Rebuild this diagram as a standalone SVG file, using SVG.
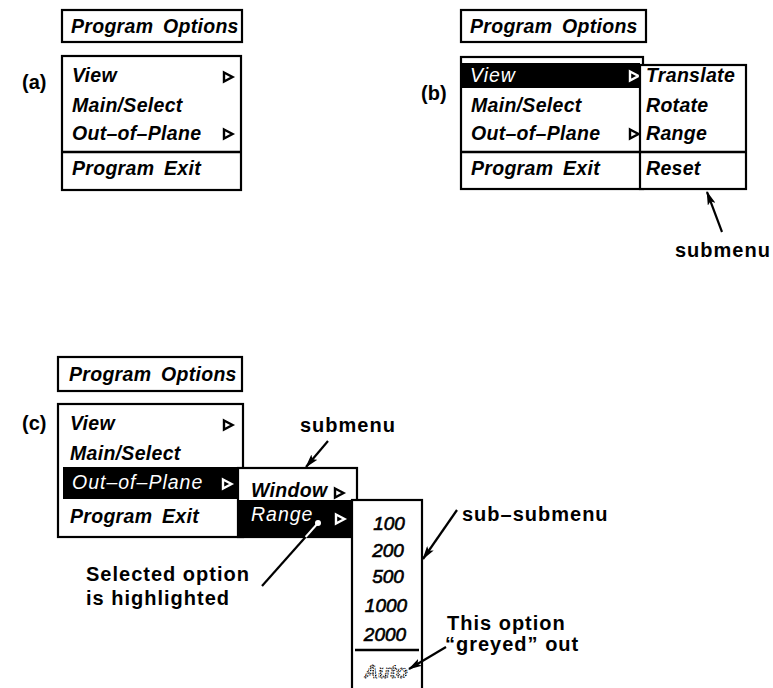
<svg xmlns="http://www.w3.org/2000/svg" width="773" height="688" viewBox="0 0 773 688">
<style>
.bg{fill:#fff}
.box{fill:#fff;stroke:#000;stroke-width:2.2}
.blk{fill:#000;stroke:none}
.mi{font-family:"Liberation Sans",Arial,sans-serif;font-size:19.5px;font-style:italic;font-weight:bold;letter-spacing:0.3px;word-spacing:4px;fill:#000}
.hi{font-weight:normal;fill:#fff;letter-spacing:1px}
.num{font-family:"Liberation Sans",Arial,sans-serif;font-size:19px;font-style:italic;font-weight:normal;fill:#000;stroke:#000;stroke-width:0.6;text-anchor:middle}
.grey{fill:url(#dots);stroke:#000;stroke-width:0.9;stroke-dasharray:1.2 1.8;font-weight:bold}
.lab{font-family:"Liberation Sans",Arial,sans-serif;font-size:20px;font-weight:bold;letter-spacing:1px;fill:#000}
.pl{letter-spacing:0}
.tri{fill:none;stroke:#000;stroke-width:2.4;stroke-linejoin:miter}
.triw{stroke:#fff}
.sep{stroke:#000;stroke-width:2.5}
.lead{stroke:#000;stroke-width:2.2;fill:none}
.leadw{stroke:#fff;stroke-width:2}
</style>
<defs>
<marker id="ah" markerWidth="14" markerHeight="8" refX="13" refY="4" orient="auto" markerUnits="userSpaceOnUse">
<path d="M0,0 L14,4 L0,8 L3,4 Z" fill="#000"/>
</marker>
<pattern id="dots" width="2.5" height="2.5" patternUnits="userSpaceOnUse">
<rect width="1.4" height="1.4" fill="#000"/>
</pattern>
<path id="tri" d="M0,-4.5 L8.5,0 L0,4.5 Z"/>
</defs>
<rect class="bg" x="0" y="0" width="773" height="688"/>

<!-- Panel (a) -->
<text class="lab pl" x="22" y="89">(a)</text>
<g id="a-title">
<rect class="box" x="62" y="10" width="180" height="32"/>
<text class="mi" x="71" y="33" word-spacing="5">Program Options</text>
</g>
<g id="a-menu">
<rect class="box" x="62" y="56" width="179" height="134"/>
<text class="mi" x="72" y="82">View</text>
<use href="#tri" class="tri" x="224" y="77"/>
<text class="mi" x="72" y="112">Main/Select</text>
<text class="mi" x="72" y="140">Out–of–Plane</text>
<use href="#tri" class="tri" x="224" y="134"/>
<line class="sep" x1="62" y1="152" x2="241" y2="152"/>
<text class="mi" x="72" y="175">Program Exit</text>
</g>

<!-- Panel (b) -->
<text class="lab pl" x="421" y="100">(b)</text>
<g id="b-title">
<rect class="box" x="461" y="10" width="185" height="32"/>
<text class="mi" x="470" y="33" word-spacing="5">Program Options</text>
</g>
<g id="b-menu">
<rect class="box" x="461" y="57" width="182" height="132"/>
<rect class="blk" x="462" y="63" width="178" height="25"/>
<text class="mi hi" x="470" y="82">View</text>
<use href="#tri" class="tri triw" x="630" y="76"/>
<text class="mi" x="471" y="112">Main/Select</text>
<text class="mi" x="471" y="140">Out–of–Plane</text>
<use href="#tri" class="tri" x="630" y="134"/>
<line class="sep" x1="461" y1="152" x2="640" y2="152"/>
<text class="mi" x="471" y="175">Program Exit</text>
</g>
<g id="b-submenu">
<rect class="box" x="640" y="65" width="106" height="124"/>
<text class="mi" x="646" y="82">Translate</text>
<text class="mi" x="646" y="112">Rotate</text>
<text class="mi" x="646" y="140">Range</text>
<line class="sep" x1="640" y1="152" x2="746" y2="152"/>
<text class="mi" x="646" y="175">Reset</text>
</g>
<g id="b-label">
<text class="lab" x="675" y="257">submenu</text>
</g>

<!-- Panel (c) -->
<text class="lab pl" x="22" y="430">(c)</text>
<g id="c-title">
<rect class="box" x="58" y="357" width="184" height="34"/>
<text class="mi" x="69" y="381" word-spacing="5">Program Options</text>
</g>
<g id="c-menu">
<rect class="box" x="58" y="404" width="185" height="133"/>
<text class="mi" x="70" y="430">View</text>
<use href="#tri" class="tri" x="224" y="425"/>
<text class="mi" x="70" y="460">Main/Select</text>
<rect class="blk" x="63" y="467" width="175" height="32"/>
<text class="mi hi" x="72" y="489">Out–of–Plane</text>
<use href="#tri" class="tri triw" x="223" y="484"/>
<text class="mi" x="70" y="523">Program Exit</text>
</g>
<g id="c-submenu">
<rect class="box" x="238" y="468" width="119" height="69"/>
<text class="mi" x="251" y="497">Window</text>
<use href="#tri" class="tri" x="335" y="493"/>
<rect class="blk" x="238" y="500" width="114" height="38"/>
<text class="mi hi" x="251" y="521">Range</text>
<use href="#tri" class="tri triw" x="336" y="519"/>
</g>
<g id="c-subsubmenu">
<rect class="box" x="352" y="500" width="70" height="200"/>
<text class="num" x="389" y="530">100</text>
<text class="num" x="388" y="557">200</text>
<text class="num" x="388" y="583">500</text>
<text class="num" x="386" y="612">1000</text>
<text class="num" x="385" y="641">2000</text>
<line class="sep" x1="355" y1="650" x2="419" y2="650"/>
<text class="num grey" x="386" y="678">Auto</text>
</g>
<g id="c-label-submenu">
<text class="lab" x="300" y="432">submenu</text>
</g>
<g id="c-label-subsub">
<text class="lab" x="462" y="521">sub–submenu</text>
</g>
<g id="c-label-greyed">
<text class="lab" x="447" y="630">This option</text>
<text class="lab" x="445" y="651">“greyed” out</text>
</g>
<g id="c-label-selected">
<text class="lab" x="86" y="581">Selected option</text>
<text class="lab" x="86" y="605">is highlighted</text>
</g>

<!-- Connectors -->
<g id="connectors">
<line class="lead" x1="722" y1="232" x2="707" y2="192" marker-end="url(#ah)"/>
<line class="lead" x1="328" y1="441" x2="306" y2="467" marker-end="url(#ah)"/>
<line class="lead" x1="457" y1="510" x2="423" y2="559" marker-end="url(#ah)"/>
<line class="lead" x1="446" y1="647" x2="409" y2="669" marker-end="url(#ah)"/>
<line class="lead" x1="262" y1="586" x2="318" y2="523"/>
<line class="leadw" x1="318" y1="523" x2="305.6" y2="537"/>
<circle cx="318" cy="523" r="3" fill="#fff"/>
</g>
</svg>
